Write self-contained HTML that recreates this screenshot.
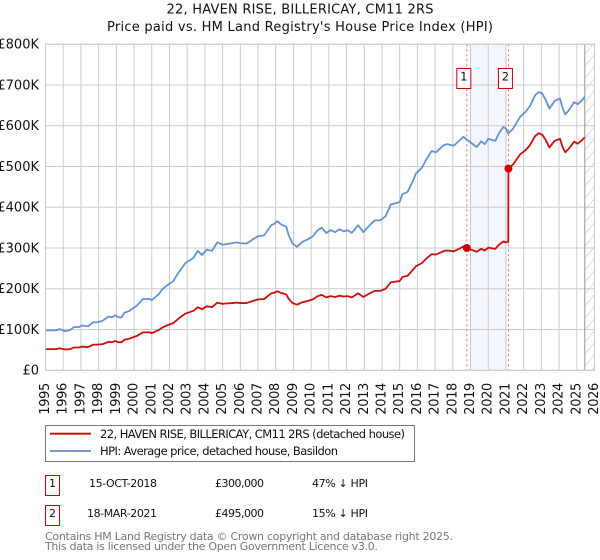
<!DOCTYPE html>
<html lang="en">
<head>
<meta charset="utf-8">
<title>22, HAVEN RISE, BILLERICAY, CM11 2RS</title>
<style>
html,body{margin:0;padding:0;background:#fff;width:600px;height:560px;overflow:hidden}
svg{display:block}
text{font-family:"DejaVu Sans","Liberation Sans",sans-serif;fill:#111}
</style>
</head>
<body>
<svg id="chart" width="600" height="560" viewBox="0 0 600 560" xmlns="http://www.w3.org/2000/svg">
  <defs>
    <pattern id="hatch" width="10" height="12" patternUnits="userSpaceOnUse">
      <path d="M-1 13 L11 -1" stroke="#d0d0d0" stroke-width="0.8" fill="none"/>
    </pattern>
  </defs>
  <text x="300" y="13.5" text-anchor="middle" font-size="13" textLength="267" lengthAdjust="spacing">22, HAVEN RISE, BILLERICAY, CM11 2RS</text>
  <text x="300" y="31" text-anchor="middle" font-size="13" textLength="386" lengthAdjust="spacing">Price paid vs. HM Land Registry's House Price Index (HPI)</text>
  <g id="plot"></g>

  <g>
    <rect x="45.5" y="425.5" width="369" height="36" fill="#fff" stroke="#777" stroke-width="1"/>
    <line x1="50" y1="433.7" x2="91" y2="433.7" stroke="#cc0000" stroke-width="1.8"/>
    <text x="100" y="438" font-size="11.5" textLength="305" lengthAdjust="spacing">22, HAVEN RISE, BILLERICAY, CM11 2RS (detached house)</text>
    <line x1="50" y1="451" x2="91" y2="451" stroke="#5b8dd0" stroke-width="1.8"/>
    <text x="100" y="455" font-size="11.5" textLength="238" lengthAdjust="spacing">HPI: Average price, detached house, Basildon</text>
  </g>

  <g>
    <rect x="45.5" y="475.5" width="14" height="20" fill="#fff" stroke="#cc0000" stroke-width="1"/>
    <text x="52.5" y="487" text-anchor="middle" font-size="11">1</text>
    <text x="157" y="487" text-anchor="end" font-size="11" textLength="68" lengthAdjust="spacing">15-OCT-2018</text>
    <text x="215" y="487" font-size="11" textLength="49" lengthAdjust="spacing">£300,000</text>
    <text x="312" y="487" font-size="11" textLength="56" lengthAdjust="spacing">47% ↓ HPI</text>
  </g>
  <g>
    <rect x="45.5" y="505.5" width="14" height="20" fill="#fff" stroke="#cc0000" stroke-width="1"/>
    <text x="52.5" y="517" text-anchor="middle" font-size="11">2</text>
    <text x="157" y="517" text-anchor="end" font-size="11" textLength="70" lengthAdjust="spacing">18-MAR-2021</text>
    <text x="215" y="517" font-size="11" textLength="49" lengthAdjust="spacing">£495,000</text>
    <text x="312" y="517" font-size="11" textLength="56" lengthAdjust="spacing">15% ↓ HPI</text>
  </g>

  <text x="45" y="540" font-size="11" style="fill:#777" textLength="408" lengthAdjust="spacing">Contains HM Land Registry data © Crown copyright and database right 2025.</text>
  <text x="45" y="550" font-size="11" style="fill:#777" textLength="333" lengthAdjust="spacing">This data is licensed under the Open Government Licence v3.0.</text>
</svg>
<script>
const yearTicks = [1995,1996,1997,1998,1999,2000,2001,2002,2003,2004,2005,2006,2007,2008,2009,2010,2011,2012,2013,2014,2015,2016,2017,2018,2019,2020,2021,2022,2023,2024,2025,2026];
const priceTicks = [0,100,200,300,400,500,600,700,800];
const priceLabels = ['£0','£100K','£200K','£300K','£400K','£500K','£600K','£700K','£800K'];
const dates = [1995.0,1995.6,1995.8,1996.1,1996.4,1996.6,1996.9,1997.05,1997.4,1997.7,1997.9,1998.2,1998.4,1998.55,1998.75,1998.95,1999.1,1999.3,1999.45,1999.7,2000.0,2000.15,2000.5,2000.9,2001.0,2001.4,2001.6,2001.85,2002.22,2002.41,2002.6,2002.9,2003.35,2003.6,2003.84,2004.1,2004.4,2004.7,2005.0,2005.15,2005.55,2005.8,2006.0,2006.35,2006.7,2007.0,2007.35,2007.55,2007.75,2007.9,2008.1,2008.3,2008.6,2008.72,2008.95,2009.2,2009.5,2009.8,2010.1,2010.37,2010.6,2010.85,2011.1,2011.35,2011.6,2011.85,2012.05,2012.3,2012.65,2012.95,2013.35,2013.6,2013.9,2014.2,2014.5,2015.0,2015.15,2015.45,2015.8,2015.9,2016.25,2016.5,2016.8,2017.05,2017.5,2017.7,2018.05,2018.35,2018.6,2018.79,2019.35,2019.6,2019.8,2020.0,2020.4,2020.6,2020.85,2021.0,2021.13,2021.14,2021.4,2021.8,2022.1,2022.35,2022.65,2022.85,2023.05,2023.25,2023.45,2023.75,2024.05,2024.2,2024.35,2024.55,2024.85,2025.05,2025.3,2025.45];
const hpiValues = [98,98,101,96,99,106,106,110,108,118,118,121,127,132,130,135,130,130,141,145,154,158,175,175,172,187,199,208,219,233,245,263,276,293,283,296,293,314,308,309,312,314,312,311,321,329,331,344,356,359,366,358,352,333,311,303,315,321,329,344,350,337,344,339,346,341,344,337,356,339,358,368,368,378,407,413,432,438,470,482,497,517,538,535,553,555,551,563,573,566,548,562,555,568,563,581,597,593,581,581,593,622,634,648,675,683,679,663,642,661,667,643,628,638,658,653,663,671];
const paidValues = [52,52,54,51,52,56,56,58,57,63,63,64,67,70,69,72,69,69,75,77,82,84,93,93,91,99,105,110,116,123,130,139,146,155,150,157,155,166,163,164,165,166,165,165,170,174,175,182,189,190,194,190,186,176,165,161,167,170,174,182,185,179,182,180,183,181,182,179,189,180,190,195,195,200,216,219,229,232,249,255,263,274,285,284,293,294,292,298,304,300,291,298,294,301,298,308,316,314,315,495,505,530,540,552,575,582,578,565,547,563,568,548,535,544,561,556,565,572];
const saleDates = [2018.79,2021.14];
const salePrices = [300,495];
const saleIds = ['1','2'];
const bandYears = [2019,2021];
const lastDataYear = 2025.45;

const NS = 'http://www.w3.org/2000/svg';
const plot = document.getElementById('plot');
const xOf = yr => 45.5 + (yr - 1995) * (549 / 31);
const yOf = k => 370.3 - k * 0.4075;
const top_ = yOf(800), bottom = yOf(0), left = xOf(1995), right = xOf(2026);

function make(tag, attrs, text) {
  const el = document.createElementNS(NS, tag);
  for (const k in attrs) el.setAttribute(k, attrs[k]);
  if (text !== undefined) el.textContent = text;
  plot.appendChild(el);
  return el;
}

const band = make('rect', {x:xOf(bandYears[0]), y:top_, width:xOf(bandYears[1])-xOf(bandYears[0]), height:bottom-top_, fill:'#f3f6fd'});



const hatch = make('rect', {x:xOf(lastDataYear), y:top_, width:right-xOf(lastDataYear), height:bottom-top_, fill:'url(#hatch)'});



yearTicks.forEach(yr => {
  const g = make('line', {x1:xOf(yr), x2:xOf(yr), y1:top_, y2:bottom, stroke:'#cbcbcb', 'stroke-width':1});
  
  
  const t = make('text', {x:0, y:0, 'font-size':13, 'text-anchor':'end', 'dominant-baseline':'central', transform:'translate('+xOf(yr)+',382.7) rotate(-90)', textLength:32, lengthAdjust:'spacing'}, String(yr));
  
  
});

priceTicks.forEach((k, i) => {
  const g = make('line', {x1:left, x2:right, y1:yOf(k), y2:yOf(k), stroke:'#cbcbcb', 'stroke-width':1});
  
  
  const t = make('text', {x:39, y:yOf(k)+4.2, 'font-size':13, 'text-anchor':'end'}, priceLabels[i]);
  
  
});

const cutoff = make('line', {x1:xOf(lastDataYear), x2:xOf(lastDataYear), y1:top_, y2:bottom, stroke:'#999', 'stroke-width':1});



saleDates.forEach(d => {
  const v = make('line', {x1:xOf(d), x2:xOf(d), y1:top_, y2:bottom, stroke:'#f4606c', 'stroke-width':1, 'stroke-dasharray':'2 3'});
  
  
});

const pathOf = vals => dates.map((d, i) => (i ? 'L' : 'M') + xOf(d).toFixed(2) + ' ' + yOf(vals[i]).toFixed(2)).join(' ');

const hpiLine = make('path', {d:pathOf(hpiValues), fill:'none', stroke:'#5b8dd0', 'stroke-width':1.8, 'stroke-linejoin':'round', opacity:0.95});



const paidLine = make('path', {d:pathOf(paidValues), fill:'none', stroke:'#cc0000', 'stroke-width':1.8, 'stroke-linejoin':'round', opacity:0.95});



saleDates.forEach((d, i) => {
  const m = make('circle', {cx:xOf(d), cy:yOf(salePrices[i]), r:4, fill:'#cc0000'});
  
  
  const b = make('rect', {x:xOf(d)-10, y:68.5, width:14, height:20, fill:'#fff', stroke:'#cc0000', 'stroke-width':1});
  
  
  const t = make('text', {x:xOf(d)-3, y:80.5, 'font-size':11.5, 'text-anchor':'middle'}, saleIds[i]);
  
  
});

const frame = make('rect', {x:left, y:top_, width:right-left, height:bottom-top_, fill:'none', stroke:'#cbcbcb', 'stroke-width':1});


</script>
</body>
</html>
